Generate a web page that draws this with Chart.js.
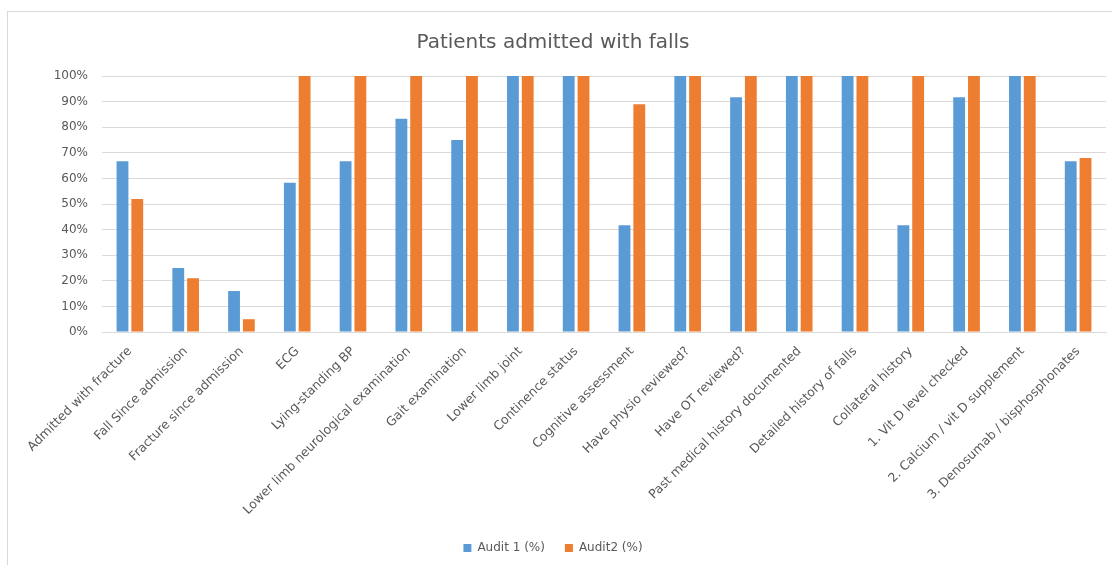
<!DOCTYPE html>
<html>
<head>
<meta charset="utf-8">
<script src="https://cdn.jsdelivr.net/npm/chart.js@4.4.1/dist/chart.umd.min.js"></script>
<style>
  html, body { margin: 0; padding: 0; background: #fff; overflow: hidden; }
  #frameTop { position: absolute; left: 7px; top: 11px; width: 1200px; height: 1px; background: #d9d9d9; }
  #frameLeft { position: absolute; left: 7px; top: 11px; width: 1px; height: 600px; background: #d9d9d9; }
  #wrap { position: absolute; left: 0; top: 0; width: 1112px; height: 565px; }
</style>
</head>
<body>
<div id="frameTop"></div>
<div id="frameLeft"></div>
<div id="wrap"><canvas id="fallsChart"></canvas></div>
<script>
const categories = [
  'Admitted with fracture', 'Fall Since admission', 'Fracture since admission', 'ECG',
  'Lying-standing BP', 'Lower limb neurological examination', 'Gait examination',
  'Lower limb joint', 'Continence status', 'Cognitive assessment', 'Have physio reviewed?',
  'Have OT reviewed?', 'Past medical history documented', 'Detailed history of falls',
  'Collateral history', '1. Vit D level checked', '2. Calcium / vit D supplement',
  '3. Denosumab / bisphosphonates'
];
const audit1 = [66.7, 25, 16, 58.3, 66.7, 83.3, 75, 100, 100, 41.7, 100, 91.7, 100, 100, 41.7, 91.7, 100, 66.7];
const audit2 = [52, 21, 5, 100, 100, 100, 100, 100, 100, 89, 100, 100, 100, 100, 100, 100, 100, 68];
const yTicks = [0, 10, 20, 30, 40, 50, 60, 70, 80, 90, 100];

Chart.defaults.font.family = '"DejaVu Sans", sans-serif';
Chart.defaults.color = '#595959';

const ctx = document.getElementById('fallsChart').getContext('2d');

new Chart(ctx, {
  type: 'bar',
  data: {
    labels: categories,
    datasets: [{
      label: 'Audit 1 (%)',
      data: audit1,
      backgroundColor: '#5B9BD5',
      categoryPercentage: 0.53,
      barPercentage: 0.8
    }, {
      label: 'Audit2 (%)',
      data: audit2,
      backgroundColor: '#ED7D31',
      categoryPercentage: 0.53,
      barPercentage: 0.8
    }]
  },
  options: {
    responsive: true,
    maintainAspectRatio: false,
    animation: false,
    layout: { padding: { top: 31, right: 6, left: 0, bottom: 1 } },
    plugins: {
      title: {
        display: true,
        text: 'Patients admitted with falls',
        font: { size: 20, weight: 'normal' },
        color: '#595959',
        padding: { top: 0, bottom: 21 }
      },
      legend: {
        position: 'bottom',
        labels: { boxWidth: 8, boxHeight: 8, font: { size: 12 }, color: '#595959', padding: 20 }
      },
      tooltip: { enabled: false }
    },
    scales: {
      x: {
        grid: { display: false },
        border: { color: '#d9d9d9' },
        ticks: { maxRotation: 45, minRotation: 45, autoSkip: false, font: { size: 12.5 }, padding: 4 },
        afterFit: (scale) => { scale.height = 190; }
      },
      y: {
        min: 0,
        max: 100,
        afterBuildTicks: (scale) => { scale.ticks = yTicks.map(v => ({ value: v })); },
        ticks: { callback: (v) => v + '%', font: { size: 12 }, padding: 14 },
        grid: { color: '#d9d9d9', drawTicks: false },
        border: { display: false },
        afterFit: (scale) => { scale.width = 102; }
      }
    }
  }
});
</script>
</body>
</html>
